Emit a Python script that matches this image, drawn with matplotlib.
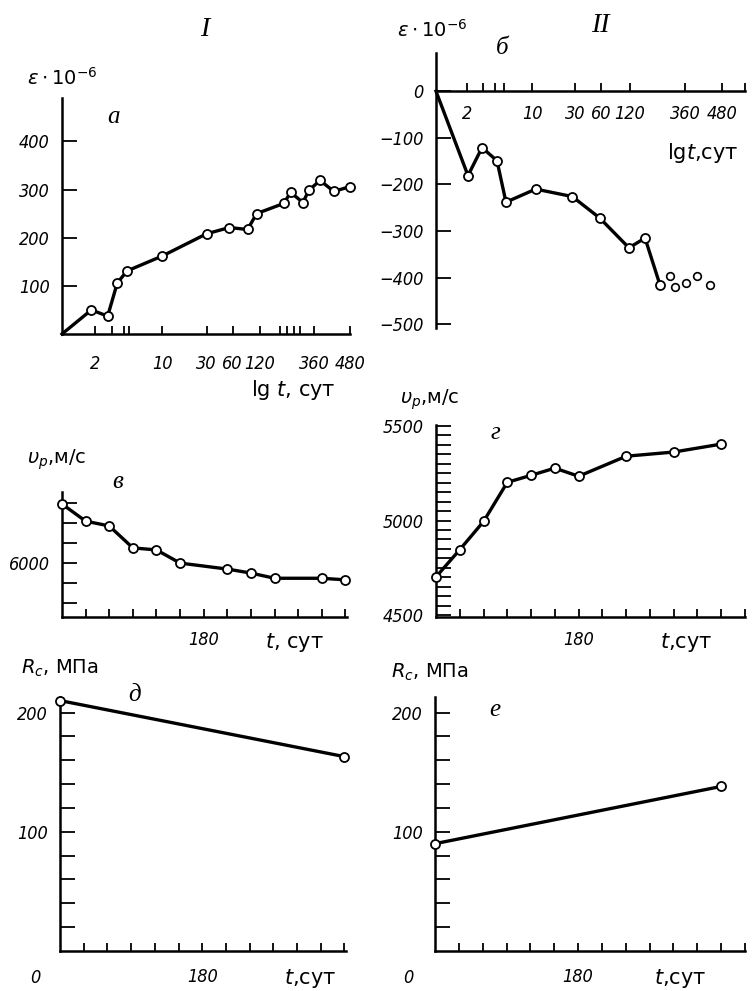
import matplotlib
matplotlib.use('Agg')
import numpy as np
import matplotlib.pyplot as plt
from matplotlib.ticker import NullLocator

W, H = 755, 991

# --- panel a: strain, series I (hand-drawn lg t axis) ---
t_a = [1, 1.85, 2.7, 3.4, 4.3, 10, 30, 55, 88, 111, 195, 225, 288, 325, 378, 422, 480]
eps_a = [0, 50, 37, 106, 131, 162, 208, 221, 217, 250, 271, 294, 273, 298, 319, 296, 306]

# --- panel b: strain, series II ---
t_b = [1, 2.05, 2.9, 4.2, 5.25, 11, 28, 58, 117, 162, 218]
eps_b = [0, -181, -121, -149, -238, -210, -226, -272, -336, -315, -415]
t_b_free = [267, 295, 363, 395, 437]
eps_b_free = [-396, -419, -411, -396, -415]

# --- panel v: P-wave velocity, series I ---
t_v = [0, 30, 60, 90, 120, 150, 210, 240, 270, 330, 360]
vp_v = [6148, 6105, 6093, 6038, 6033, 6000, 5985, 5975, 5962, 5962, 5958]

# --- panel g: P-wave velocity, series II ---
t_g = [0, 30, 60, 90, 120, 150, 180, 240, 300, 360]
vp_g = [4702, 4846, 4995, 5202, 5239, 5277, 5234, 5340, 5362, 5404]

# --- panels d, e: compressive strength ---
t_d = [0, 360]
rc_d = [210, 163]
t_e = [0, 360]
rc_e = [90, 138]

# the lg t axes in the original are drawn by hand: label -> position along the axis
lg_knots_t = [1, 2, 10, 30, 60, 120, 360, 480]
lg_pos_a = [0, 33, 100, 144, 170, 197, 251, 287]
lg_knots_t_b = lg_knots_t + [575]
lg_pos_b = [0, 31, 96, 139, 165, 194, 249, 286, 309]

ticks_a = [2, 3, 4, 4.5, 10, 30, 60, 120, 180, 210, 240, 270, 360, 480]
ticks_b = [2, 3, 4, 5, 10, 30, 60, 120, 360, 480, 575]
lg_labels = {2: '2', 10: '10', 30: '30', 60: '60', 120: '120', 360: '360', 480: '480'}

NUM = dict(family='DejaVu Sans', fontstyle='italic', fontstretch='condensed')
plt.rcParams['font.family'] = ['DejaVu Sans']
plt.rcParams['mathtext.fontset'] = 'dejavusans'

fig = plt.figure(figsize=(W / 100, H / 100), dpi=100)


def px_axes(x0, y0, x1, y1):
    return fig.add_axes([x0 / W, 1 - y1 / H, (x1 - x0) / W, (y1 - y0) / H])


def lg_scale(ax, knots_t, knots_pos):
    L = np.log10(knots_t)
    P = np.asarray(knots_pos, float)

    def fwd(t):
        t = np.clip(np.asarray(t, float), 1e-6, None)
        return np.interp(np.log10(t), L, P)

    def inv(p):
        return 10 ** np.interp(p, P, L)

    ax.set_xscale('function', functions=(fwd, inv))
    ax.xaxis.set_minor_locator(NullLocator())


def style(ax, xpad, ypad):
    for s in ('top', 'right'):
        ax.spines[s].set_visible(False)
    for s in ('left', 'bottom'):
        ax.spines[s].set_linewidth(1.8)
    ax.tick_params(direction='in', width=1.3)
    ax.tick_params(axis='y', length=11, pad=ypad)
    ax.tick_params(axis='x', length=6, pad=xpad)
    ax.patch.set_alpha(0)


def set_ticks(ax, axis, ticks, labelled):
    labels = [labelled.get(v, '') for v in ticks]
    if axis == 'x':
        ax.set_xticks(ticks, labels, fontsize=13, **NUM)
    else:
        ax.set_yticks(ticks, labels, fontsize=13, **NUM)


def draw(ax, t, y, skip_first=False):
    ax.plot(t, y, '-', color='k', lw=2.4, clip_on=False, zorder=3)
    s = 1 if skip_first else 0
    ax.plot(t[s:], y[s:], 'o', ms=6.5, mfc='white', mec='k', mew=1.3,
            clip_on=False, zorder=4)


def ftext(x, y, s, size=13, **kw):
    fig.text(x / W, 1 - y / H, s, ha='center', va='center', fontsize=size, **kw)


# panel a
ax = px_axes(62, 98, 350, 334)
style(ax, 15, 9)
lg_scale(ax, lg_knots_t, lg_pos_a)
ax.set_xlim(1, 480)
ax.set_ylim(0, 490)
draw(ax, t_a, eps_a, skip_first=True)
set_ticks(ax, 'x', ticks_a, lg_labels)
set_ticks(ax, 'y', [100, 200, 300, 400], {100: '100', 200: '200', 300: '300', 400: '400'})

# panel b
ax = px_axes(436, 53, 745, 328)
style(ax, 10, 9)
lg_scale(ax, lg_knots_t_b, lg_pos_b)
ax.set_xlim(1, 575)
ax.set_ylim(-508, 82)
ax.spines['bottom'].set_position(('data', 0))
draw(ax, t_b, eps_b, skip_first=True)
ax.plot(t_b_free, eps_b_free, 'o', ms=5.5, mfc='white', mec='k', mew=1.2,
        clip_on=False, zorder=4)
set_ticks(ax, 'x', ticks_b, lg_labels)
set_ticks(ax, 'y', [-500, -400, -300, -200, -100, 0],
          {-500: '\u2212500', -400: '\u2212400', -300: '\u2212300',
           -200: '\u2212200', -100: '\u2212100', 0: '0'})

# panel v
ax = px_axes(62, 492, 347, 617)
style(ax, 10, 9)
ax.set_xlim(0, 362)
ax.set_ylim(5865, 6178)
draw(ax, t_v, vp_v)
set_ticks(ax, 'x', list(range(30, 361, 30)), {180: '180'})
set_ticks(ax, 'y', [5900, 5950, 6000, 6050, 6100, 6150], {6000: '6000'})

# panel g
ax = px_axes(436, 425, 745, 617)
style(ax, 10, 9)
ax.set_xlim(0, 390)
ax.set_ylim(4490, 5505)
draw(ax, t_g, vp_g)
set_ticks(ax, 'x', list(range(30, 391, 30)), {180: '180'})
set_ticks(ax, 'y', list(range(4500, 5501, 50)),
          {4500: '4500', 5000: '5000', 5500: '5500'})

# panel d
ax = px_axes(60, 697, 346, 951)
style(ax, 12, 9)
ax.set_xlim(0, 362)
ax.set_ylim(0, 213)
draw(ax, t_d, rc_d)
set_ticks(ax, 'x', list(range(30, 361, 30)), {180: '180'})
set_ticks(ax, 'y', list(range(20, 201, 20)), {100: '100', 200: '200'})

# panel e
ax = px_axes(435, 697, 745, 951)
style(ax, 12, 9)
ax.set_xlim(0, 390)
ax.set_ylim(0, 213)
draw(ax, t_e, rc_e)
set_ticks(ax, 'x', list(range(30, 391, 30)), {180: '180'})
set_ticks(ax, 'y', list(range(20, 201, 20)), {100: '100', 200: '200'})

# headings, axis titles and panel letters
serif_it = dict(family='Liberation Serif', fontstyle='italic')
ftext(205, 30, 'I', size=20, **serif_it)
ftext(600, 25, 'II', size=20, **serif_it)

eps_lbl = r'$\varepsilon\cdot\mathit{10}^{-6}$'
ftext(62, 78, eps_lbl, size=14)
ftext(432, 30, eps_lbl, size=14)
ftext(293, 390, r'lg $t$, сут', size=15)
ftext(703, 153, r'lg$t$,сут', size=15)

vp_lbl = r'$\upsilon_p$,м/с'
ftext(57, 460, vp_lbl, size=14)
ftext(430, 400, vp_lbl, size=14)
ftext(294, 643, r'$t$, сут', size=15)
ftext(686, 643, r'$t$,сут', size=15)

rc_lbl = r'$R_c$, МПа'
ftext(60, 668, rc_lbl, size=14)
ftext(430, 672, rc_lbl, size=14)
ftext(310, 978, r'$t$,сут', size=15)
ftext(680, 978, r'$t$,сут', size=15)
ftext(35, 978, '0', size=13, **NUM)
ftext(408, 978, '0', size=13, **NUM)

for x, y, s in [(113, 117, 'а'), (502, 48, 'б'), (118, 482, 'в'),
                (495, 433, 'г'), (135, 695, 'д'), (495, 710, 'е')]:
    ftext(x, y, s, size=18, **serif_it)

fig.savefig('out.png', dpi=100)
